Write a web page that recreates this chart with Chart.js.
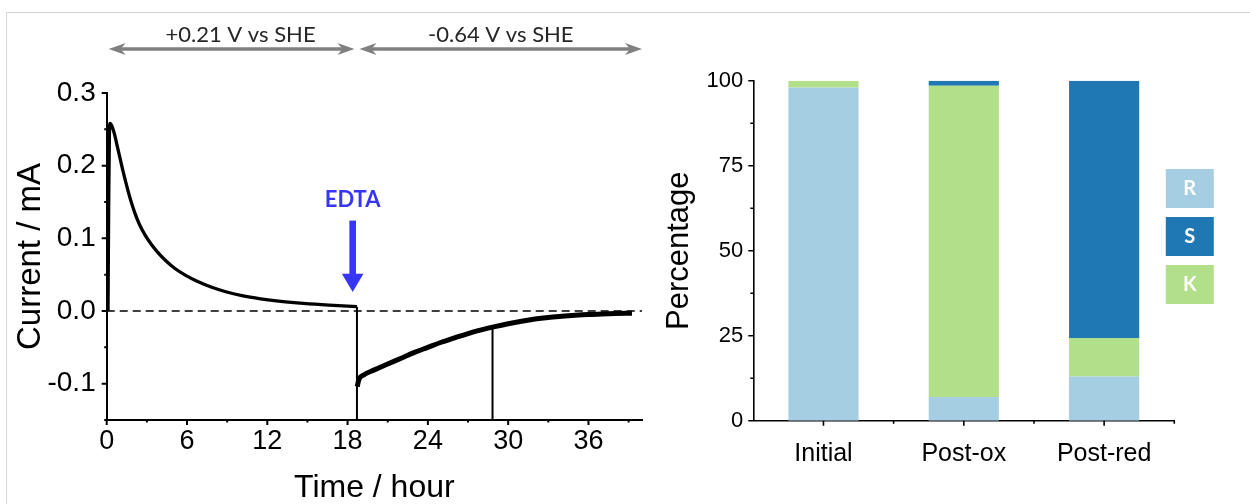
<!DOCTYPE html>
<html>
<head>
<meta charset="utf-8">
<script src="https://cdn.jsdelivr.net/npm/chart.js@4.4.0/dist/chart.umd.min.js"></script>
<style>
  html, body { margin: 0; padding: 0; background: #fff; }
  #page { position: relative; width: 1250px; height: 504px; overflow: hidden; background: #fff; }
  #frame { position: absolute; left: 6px; top: 12px; right: -4px; bottom: -4px;
           border-top: 1.5px solid #d6d6d6; border-left: 1.5px solid #d6d6d6; }
  #left  { position: absolute; left: 0; top: 0; width: 660px; height: 504px; }
  #right { position: absolute; left: 660px; top: 0; width: 590px; height: 504px; }
</style>
</head>
<body>
<div id="page">
  <div id="frame"></div>
  <div id="left"><canvas id="trace"></canvas></div>
  <div id="right"><canvas id="share"></canvas></div>
</div>
<script>
// ---------- chronoamperometry trace (time in hours, current in mA) ----------
const oxTime    = [0.10, 0.15, 0.20, 0.25, 0.40, 0.60, 0.80, 1.00, 1.20, 1.40, 1.60, 1.80, 2.10, 2.45, 2.85, 3.30, 3.80, 4.40, 5.10, 5.90, 6.80, 7.80, 8.90, 10.1, 11.5, 13.0, 14.7, 16.6, 18.7];
const oxCurrent = [0.000, 0.150, 0.240, 0.258, 0.254, 0.242, 0.226, 0.210, 0.194, 0.179, 0.165, 0.152, 0.135, 0.119, 0.105, 0.0925, 0.0810, 0.0695, 0.0585, 0.0490, 0.0405, 0.0330, 0.0265, 0.0212, 0.0168, 0.0133, 0.0104, 0.0080, 0.0060];

const redTime    = [18.72, 18.85, 19.2, 20.0, 21.0, 22.0, 23.0, 24.0, 25.0, 26.0, 27.0, 28.0, 29.0, 30.0, 31.0, 32.0, 33.0, 34.0, 35.0, 36.0, 37.0, 38.0, 39.25];
const redCurrent = [-0.104, -0.094, -0.088, -0.081, -0.073, -0.065, -0.057, -0.050, -0.043, -0.037, -0.031, -0.026, -0.0215, -0.0175, -0.014, -0.011, -0.0088, -0.0072, -0.0058, -0.0047, -0.0040, -0.0035, -0.0030];

const edtaTime = 18.70;          // potential switched / EDTA added
const spikeTime = 28.83;         // single-point glitch in the reduction step
const spikeCurrent = -0.021;

const timeRange = [0, 40];
const currentRange = [-0.15, 0.3];
const timeTicks = [0, 6, 12, 18, 24, 30, 36];
const timeMinorTicks = [3, 9, 15, 21, 27, 33, 39];
const currentTicks = [-0.1, 0, 0.1, 0.2, 0.3];
const currentTickLabels = ['-0.1', '0.0', '0.1', '0.2', '0.3'];
const currentMinorTicks = [-0.15, -0.05, 0.05, 0.15, 0.25];

const phaseLabels = ['+0.21 V vs SHE', '-0.64 V vs SHE'];
const phaseLabelTimes = [10.0, 29.45];

// ---------- composition of the deposit ----------
const samples = ['Initial', 'Post-ox', 'Post-red'];
const shareR = [98, 7, 13];
const shareK = [2, 91.5, 11.3];
const shareS = [0, 1.5, 75.7];
const percentTicks = [0, 25, 50, 75, 100];
const percentMinorTicks = [12.5, 37.5, 62.5, 87.5];

// ---------------------------------------------------------------------------
const AXIS_FONT = "'Liberation Sans', Arial, sans-serif";
const NOTE_FONT = "Lato, 'Open Sans', sans-serif";
Chart.defaults.font.family = AXIS_FONT;
Chart.defaults.color = '#000';
Chart.defaults.animation = false;

const pts = (xs, ys) => xs.map((x, i) => ({ x, y: ys[i] }));
const sorted = (a, b) => [...a, ...b].sort((p, q) => p - q);

// short outward tick marks (major and minor) drawn on the scales
function tickMarks(items, width) {
  return {
    id: 'tickMarks',
    afterDraw(chart) {
      const ctx = chart.ctx;
      ctx.save();
      ctx.strokeStyle = '#000';
      ctx.lineWidth = width;
      ctx.beginPath();
      for (const it of items) {
        const s = chart.scales[it.axis];
        for (const v of it.values) {
          const p = s.getPixelForValue(v);
          if (s.isHorizontal()) { ctx.moveTo(p, s.top); ctx.lineTo(p, s.top + it.len); }
          else { ctx.moveTo(s.right, p); ctx.lineTo(s.right - it.len, p); }
        }
      }
      ctx.stroke();
      ctx.restore();
    }
  };
}

// double-headed potential arrows above the trace and the EDTA marker
function arrowHead(ctx, tipX, y, dir) {
  ctx.beginPath();
  ctx.moveTo(tipX, y);
  ctx.lineTo(tipX + dir * 17, y - 6);
  ctx.lineTo(tipX + dir * 12, y);
  ctx.lineTo(tipX + dir * 17, y + 6);
  ctx.closePath();
  ctx.fill();
}
const traceNotes = {
  id: 'traceNotes',
  afterDraw(chart) {
    const { ctx } = chart;
    const xs = chart.scales.x, ys = chart.scales.y;
    const bounds = [timeRange[0], edtaTime, timeRange[1]];
    const arrowY = 49;
    ctx.save();
    ctx.fillStyle = '#808080';
    ctx.strokeStyle = '#808080';
    ctx.lineWidth = 3.5;
    for (let i = 0; i < 2; i++) {
      const a = xs.getPixelForValue(bounds[i]) + (i === 0 ? 2 : 2.5);
      const b = xs.getPixelForValue(bounds[i + 1]) - (i === 0 ? 2.5 : 0);
      ctx.beginPath();
      ctx.moveTo(a + 10, arrowY);
      ctx.lineTo(b - 10, arrowY);
      ctx.stroke();
      arrowHead(ctx, a, arrowY, 1);
      arrowHead(ctx, b, arrowY, -1);
    }
    ctx.fillStyle = '#262626';
    ctx.font = `22px ${NOTE_FONT}`;
    ctx.textAlign = 'center';
    ctx.textBaseline = 'alphabetic';
    phaseLabels.forEach((t, i) => ctx.fillText(t, xs.getPixelForValue(phaseLabelTimes[i]), 42));

    // EDTA arrow
    const ax = xs.getPixelForValue(edtaTime - 0.32);
    const blue = '#3636f4';
    ctx.fillStyle = blue;
    ctx.font = `bold 22px ${NOTE_FONT}`;
    ctx.fillText('EDTA', ax, ys.getPixelForValue(0.143));
    const top = ys.getPixelForValue(0.1244);
    const base = ys.getPixelForValue(0.0512);
    const tip = ys.getPixelForValue(0.0263);
    ctx.fillRect(ax - 3.3, top, 6.6, base - top + 1);
    ctx.beginPath();
    ctx.moveTo(ax - 10.8, base);
    ctx.lineTo(ax + 10.8, base);
    ctx.lineTo(ax, tip);
    ctx.closePath();
    ctx.fill();
    ctx.restore();
  }
};

new Chart(document.getElementById('trace'), {
  type: 'line',
  data: {
    datasets: [
      { data: pts(oxTime, oxCurrent), borderColor: '#000', borderWidth: 3.3,
        cubicInterpolationMode: 'monotone', pointRadius: 0, order: 1 },
      { data: pts([edtaTime, edtaTime], [oxCurrent[oxCurrent.length - 1], currentRange[0]]),
        borderColor: '#000', borderWidth: 2, pointRadius: 0, order: 2 },
      { data: pts(redTime, redCurrent), borderColor: '#000', borderWidth: 5,
        cubicInterpolationMode: 'monotone', pointRadius: 0, order: 0 },
      { data: pts([spikeTime, spikeTime], [spikeCurrent, currentRange[0]]),
        borderColor: '#000', borderWidth: 2, pointRadius: 0, order: 2 },
      { data: pts(timeRange, [0, 0]), borderColor: '#000', borderWidth: 1.3,
        borderDash: [8, 5], pointRadius: 0, order: 5 }
    ]
  },
  options: {
    responsive: true,
    maintainAspectRatio: false,
    layout: { padding: { top: 93, right: 18, bottom: 0, left: 0 } },
    plugins: { legend: { display: false }, tooltip: { enabled: false } },
    scales: {
      x: {
        type: 'linear', min: timeRange[0], max: timeRange[1],
        afterBuildTicks: s => { s.ticks = sorted(timeTicks, timeMinorTicks).map(v => ({ value: v })); },
        afterFit: s => { s.height = 84; },
        grid: { display: false, drawTicks: false },
        border: { display: true, color: '#000', width: 2 },
        ticks: {
          autoSkip: false, maxRotation: 0, padding: 5, font: { size: 27 },
          callback: v => (timeTicks.includes(v) ? String(v) : '')
        },
        title: { display: true, text: 'Time / hour', font: { size: 32 }, padding: { top: 0, bottom: -3 } }
      },
      y: {
        type: 'linear', min: currentRange[0], max: currentRange[1],
        afterBuildTicks: s => { s.ticks = sorted(currentTicks, currentMinorTicks).map(v => ({ value: v })); },
        afterFit: s => { s.width = 106.7; },
        grid: { display: false, drawTicks: false },
        border: { display: true, color: '#000', width: 2 },
        ticks: {
          autoSkip: false, padding: 11, font: { size: 28 },
          callback: v => {
            const i = currentTicks.findIndex(c => Math.abs(c - v) < 1e-9);
            return i >= 0 ? currentTickLabels[i] : '';
          }
        },
        title: { display: true, text: 'Current / mA', font: { size: 33 }, padding: { top: 11, bottom: 0 } }
      }
    }
  },
  plugins: [
    tickMarks([
      { axis: 'x', values: timeTicks, len: 5 },
      { axis: 'x', values: timeMinorTicks, len: 2.5 },
      { axis: 'y', values: currentTicks, len: 5 },
      { axis: 'y', values: currentMinorTicks, len: 2.5 }
    ], 2),
    traceNotes
  ]
});

// legend: coloured squares with the phase letter inside
const letterLegend = {
  id: 'letterLegend',
  afterDraw(chart) {
    const { ctx, chartArea } = chart;
    ctx.save();
    ['R', 'S', 'K'].forEach((name, i) => {
      const ds = chart.data.datasets.find(d => d.label === name);
      const x0 = chartArea.right - 8.5, y0 = 169 + i * 48;
      ctx.fillStyle = ds.backgroundColor;
      ctx.fillRect(x0, y0, 48, 39);
      ctx.fillStyle = '#fff';
      ctx.font = `bold 20px ${NOTE_FONT}`;
      ctx.textAlign = 'center';
      ctx.textBaseline = 'middle';
      ctx.fillText(name, x0 + 24, y0 + 20);
    });
    ctx.restore();
  }
};

new Chart(document.getElementById('share'), {
  type: 'bar',
  data: {
    labels: samples,
    datasets: [
      { label: 'R', data: shareR, backgroundColor: '#a6cee3' },
      { label: 'K', data: shareK, backgroundColor: '#b2df8a' },
      { label: 'S', data: shareS, backgroundColor: '#1f78b4' }
    ]
  },
  options: {
    responsive: true,
    maintainAspectRatio: false,
    barPercentage: 0.5,
    categoryPercentage: 1.0,
    layout: { padding: { top: 80.7, right: 75.7, bottom: 0, left: 0 } },
    plugins: { legend: { display: false }, tooltip: { enabled: false } },
    scales: {
      x: {
        stacked: true,
        afterFit: s => { s.height = 83.3; },
        grid: { display: false, drawTicks: false },
        border: { display: true, color: '#000', width: 1.6 },
        ticks: { padding: 18, font: { size: 25 } }
      },
      y: {
        stacked: true, min: 0, max: 100,
        afterBuildTicks: s => { s.ticks = sorted(percentTicks, percentMinorTicks).map(v => ({ value: v })); },
        afterFit: s => { s.width = 93.3; },
        grid: { display: false, drawTicks: false },
        border: { display: true, color: '#000', width: 1.6 },
        ticks: {
          autoSkip: false, padding: 10, font: { size: 22 },
          callback: v => (percentTicks.includes(v) ? String(v) : '')
        },
        title: { display: true, text: 'Percentage', font: { size: 31 }, padding: { top: 1, bottom: 0 } }
      }
    }
  },
  plugins: [
    tickMarks([
      { axis: 'x', values: [0, 1, 2], len: 5 },
      { axis: 'x', values: [0.5, 1.5, 2.5], len: 3 },
      { axis: 'y', values: percentTicks, len: 5 },
      { axis: 'y', values: percentMinorTicks, len: 3 }
    ], 1.6),
    letterLegend
  ]
});
</script>
</body>
</html>
